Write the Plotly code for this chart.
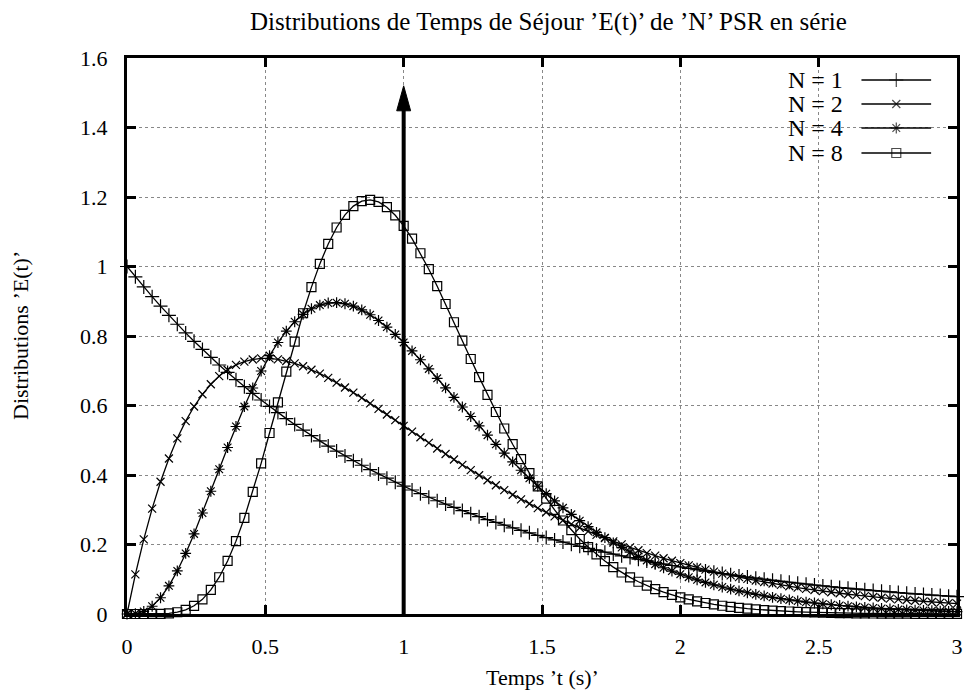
import plotly.graph_objects as go

# ---------------- data ----------------
T = [0, 0.0303, 0.0606, 0.0909, 0.1212, 0.1515, 0.1818, 0.2121, 0.2424, 0.2727,
     0.3030, 0.3333, 0.3636, 0.3939, 0.4242, 0.4545, 0.4848, 0.5152, 0.5455, 0.5758,
     0.6061, 0.6364, 0.6667, 0.6970, 0.7273, 0.7576, 0.7879, 0.8182, 0.8485, 0.8788,
     0.9091, 0.9394, 0.9697, 1.0000, 1.0303, 1.0606, 1.0909, 1.1212, 1.1515, 1.1818,
     1.2121, 1.2424, 1.2727, 1.3030, 1.3333, 1.3636, 1.3939, 1.4242, 1.4545, 1.4848,
     1.5152, 1.5455, 1.5758, 1.6061, 1.6364, 1.6667, 1.6970, 1.7273, 1.7576, 1.7879,
     1.8182, 1.8485, 1.8788, 1.9091, 1.9394, 1.9697, 2.0000, 2.0303, 2.0606, 2.0909,
     2.1212, 2.1515, 2.1818, 2.2121, 2.2424, 2.2727, 2.3030, 2.3333, 2.3636, 2.3939,
     2.4242, 2.4545, 2.4848, 2.5152, 2.5455, 2.5758, 2.6061, 2.6364, 2.6667, 2.6970,
     2.7273, 2.7576, 2.7879, 2.8182, 2.8485, 2.8788, 2.9091, 2.9394, 2.9697, 3.0000]

E_N1 = [1.0000, 0.9702, 0.9412, 0.9131, 0.8858, 0.8594, 0.8338, 0.8089, 0.7847, 0.7613,
        0.7386, 0.7165, 0.6951, 0.6744, 0.6543, 0.6347, 0.6158, 0.5974, 0.5796, 0.5623,
        0.5455, 0.5292, 0.5134, 0.4981, 0.4832, 0.4688, 0.4548, 0.4412, 0.4281, 0.4153,
        0.4029, 0.3909, 0.3792, 0.3679, 0.3569, 0.3462, 0.3359, 0.3259, 0.3162, 0.3067,
        0.2976, 0.2887, 0.2801, 0.2717, 0.2636, 0.2557, 0.2481, 0.2407, 0.2335, 0.2265,
        0.2198, 0.2132, 0.2069, 0.2007, 0.1947, 0.1889, 0.1832, 0.1778, 0.1725, 0.1673,
        0.1623, 0.1575, 0.1528, 0.1482, 0.1438, 0.1395, 0.1353, 0.1313, 0.1274, 0.1236,
        0.1199, 0.1163, 0.1128, 0.1095, 0.1062, 0.1030, 0.1000, 0.0970, 0.0941, 0.0913,
        0.0885, 0.0859, 0.0833, 0.0809, 0.0784, 0.0761, 0.0738, 0.0716, 0.0695, 0.0674,
        0.0654, 0.0634, 0.0616, 0.0597, 0.0579, 0.0562, 0.0545, 0.0529, 0.0513, 0.0498]

E_N2 = [0.0000, 0.1141, 0.2148, 0.3032, 0.3805, 0.4476, 0.5056, 0.5551, 0.5971, 0.6323,
        0.6612, 0.6846, 0.7029, 0.7167, 0.7264, 0.7325, 0.7354, 0.7354, 0.7329, 0.7281,
        0.7214, 0.7129, 0.7029, 0.6917, 0.6793, 0.6660, 0.6519, 0.6372, 0.6219, 0.6062,
        0.5903, 0.5741, 0.5577, 0.5413, 0.5250, 0.5086, 0.4924, 0.4763, 0.4604, 0.4447,
        0.4293, 0.4142, 0.3993, 0.3848, 0.3706, 0.3567, 0.3432, 0.3300, 0.3172, 0.3048,
        0.2927, 0.2810, 0.2697, 0.2587, 0.2481, 0.2378, 0.2279, 0.2183, 0.2091, 0.2002,
        0.1916, 0.1834, 0.1754, 0.1678, 0.1604, 0.1533, 0.1465, 0.1400, 0.1337, 0.1277,
        0.1220, 0.1164, 0.1111, 0.1060, 0.1012, 0.0965, 0.0920, 0.0878, 0.0837, 0.0798,
        0.0760, 0.0725, 0.0690, 0.0658, 0.0626, 0.0597, 0.0568, 0.0541, 0.0515, 0.0490,
        0.0467, 0.0444, 0.0423, 0.0402, 0.0382, 0.0364, 0.0346, 0.0329, 0.0313, 0.0298]

E_N4 = [0.0000, 0.0011, 0.0075, 0.0223, 0.0468, 0.0810, 0.1239, 0.1743, 0.2305, 0.2907,
        0.3533, 0.4166, 0.4791, 0.5396, 0.5970, 0.6504, 0.6993, 0.7436, 0.7813, 0.8140,
        0.8410, 0.8624, 0.8784, 0.8891, 0.8949, 0.8960, 0.8928, 0.8858, 0.8751, 0.8612,
        0.8446, 0.8256, 0.8044, 0.7815, 0.7571, 0.7316, 0.7053, 0.6783, 0.6509, 0.6233,
        0.5957, 0.5683, 0.5412, 0.5145, 0.4883, 0.4627, 0.4378, 0.4137, 0.3904, 0.3679,
        0.3462, 0.3255, 0.3056, 0.2867, 0.2686, 0.2514, 0.2351, 0.2196, 0.2049, 0.1911,
        0.1780, 0.1657, 0.1541, 0.1433, 0.1331, 0.1235, 0.1145, 0.1061, 0.0983, 0.0910,
        0.0841, 0.0777, 0.0718, 0.0663, 0.0612, 0.0564, 0.0520, 0.0479, 0.0441, 0.0406,
        0.0374, 0.0344, 0.0316, 0.0290, 0.0266, 0.0244, 0.0224, 0.0206, 0.0189, 0.0173,
        0.0158, 0.0145, 0.0133, 0.0121, 0.0111, 0.0102, 0.0093, 0.0085, 0.0078, 0.0071]

E_N8 = [0.0000, 0.0000, 0.0000, 0.0001, 0.0005, 0.0018, 0.0051, 0.0118, 0.0236, 0.0422,
        0.0692, 0.1058, 0.1526, 0.2097, 0.2765, 0.3516, 0.4335, 0.5209, 0.6088, 0.6976,
        0.7838, 0.8655, 0.9406, 1.0075, 1.0650, 1.1122, 1.1485, 1.1738, 1.1881, 1.1919,
        1.1859, 1.1707, 1.1473, 1.1167, 1.0800, 1.0381, 0.9922, 0.9433, 0.8921, 0.8396,
        0.7866, 0.7338, 0.6816, 0.6307, 0.5813, 0.5338, 0.4886, 0.4457, 0.4053, 0.3674,
        0.3321, 0.2994, 0.2691, 0.2413, 0.2158, 0.1926, 0.1714, 0.1523, 0.1350, 0.1194,
        0.1054, 0.0928, 0.0816, 0.0717, 0.0628, 0.0549, 0.0480, 0.0418, 0.0364, 0.0316,
        0.0275, 0.0238, 0.0206, 0.0178, 0.0154, 0.0132, 0.0114, 0.0098, 0.0084, 0.0072,
        0.0062, 0.0053, 0.0045, 0.0039, 0.0033, 0.0028, 0.0024, 0.0020, 0.0017, 0.0015,
        0.0013, 0.0011, 0.0009, 0.0008, 0.0006, 0.0005, 0.0005, 0.0004, 0.0003, 0.0003]

SERIES_NAMES = ["N = 1", "N = 2", "N = 4", "N = 8"]
X_TICKS = [0, 0.5, 1, 1.5, 2, 2.5, 3]
Y_TICKS = [0, 0.2, 0.4, 0.6, 0.8, 1.0, 1.2, 1.4, 1.6]
ARROW_X = 1.0
ARROW_BASE = 0.0
ARROW_TIP = 1.52

TITLE = "Distributions de Temps de Séjour ’E(t)’ de ’N’ PSR en série"
X_TITLE = "Temps ’t (s)’"
Y_TITLE = "Distributions ’E(t)’"

# ---------------- styling ----------------
OFF = 8                      # page body margin of the browser
SCR_W, SCR_H = 975, 691
W, H = SCR_W - OFF, SCR_H - OFF
PLOT_L, PLOT_R, PLOT_T, PLOT_B = 127, 961, 58, 614   # screen pixels of the plot frame
L = PLOT_L - OFF
TOP = PLOT_T - OFF
R = W - (PLOT_R - OFF)
B = H - (PLOT_B - OFF)
PW, PH = PLOT_R - PLOT_L, PLOT_B - PLOT_T
X_RANGE = [0, 3]
Y_RANGE = [0, 1.6]
FONT = "Liberation Serif"
FS = 22
FS_TITLE = 25
FS_KEY = 24

SYMBOLS = ["cross-thin", "x-thin", "asterisk-open", "square-open"]
SIZES = [10, 8, 9, 9]

fig = go.Figure()
series = [E_N1, E_N2, E_N4, E_N8]
for name, ys, sym, sz in zip(SERIES_NAMES, series, SYMBOLS, SIZES):
    fig.add_trace(go.Scatter(
        x=T, y=ys, mode="lines+markers", name=name, showlegend=False,
        cliponaxis=False,
        line=dict(color="black", width=1.3),
        marker=dict(symbol=sym, size=sz, color="black",
                    line=dict(color="black", width=1.2)),
    ))

# gnuplot-style key (text left, sample right) on an overlay [0,1] axis pair
def px_x(sx):
    return (sx - PLOT_L) / PW

def px_y(sy):
    return (PLOT_B - sy) / PH

KEY_TEXT_X = px_x(848)
KEY_X0, KEY_XM, KEY_X1 = px_x(865), px_x(900), px_x(935)
KEY_ROWS_PX = [80, 104, 128, 153]
for name, sym, sz, rpx in zip(SERIES_NAMES, SYMBOLS, SIZES, KEY_ROWS_PX):
    yk = px_y(rpx)
    fig.add_trace(go.Scatter(
        x=[KEY_X0, KEY_XM, KEY_X1], y=[yk, yk, yk], xaxis="x2", yaxis="y2",
        mode="lines+markers", showlegend=False, hoverinfo="skip",
        line=dict(color="black", width=1.3),
        marker=dict(symbol=sym, size=[0, sz, 0], color="black",
                    line=dict(color="black", width=1.2)),
    ))
    fig.add_annotation(xref="x2", yref="y2", x=KEY_TEXT_X, y=yk, text=name,
                       showarrow=False, xanchor="right", yanchor="middle",
                       font=dict(family=FONT, size=FS_KEY, color="black"))

# arrow at t = 1
HEAD_LEN = 25 / PH * (Y_RANGE[1] - Y_RANGE[0])
HEAD_HW = 7 / PW * (X_RANGE[1] - X_RANGE[0])
fig.add_shape(type="line", xref="x", yref="y", x0=ARROW_X, x1=ARROW_X,
              y0=ARROW_BASE, y1=ARROW_TIP - HEAD_LEN + 0.005,
              line=dict(color="black", width=4), layer="above")
fig.add_shape(type="path", xref="x", yref="y", layer="above",
              path=(f"M {ARROW_X - HEAD_HW},{ARROW_TIP - HEAD_LEN} "
                    f"L {ARROW_X},{ARROW_TIP} L {ARROW_X + HEAD_HW},{ARROW_TIP - HEAD_LEN} Z"),
              fillcolor="black", line=dict(color="black", width=1))

axis_common = dict(
    showline=True, linecolor="black", linewidth=3, mirror="ticks",
    ticks="inside", ticklen=9, tickwidth=2.5, tickcolor="black",
    showgrid=True, gridcolor="#888888", griddash="dot", gridwidth=1,
    zeroline=False,
    tickfont=dict(family=FONT, size=FS, color="black"),
)
fig.update_layout(
    width=W, height=H,
    margin=dict(l=L, r=R, t=TOP, b=B),
    paper_bgcolor="white", plot_bgcolor="white",
    xaxis=dict(range=X_RANGE, tickvals=X_TICKS, ticklabelstandoff=11, **axis_common),
    yaxis=dict(range=Y_RANGE, tickvals=Y_TICKS, ticklabelstandoff=12, **axis_common),
    xaxis2=dict(range=[0, 1], overlaying="x", visible=False, fixedrange=True),
    yaxis2=dict(range=[0, 1], overlaying="y", visible=False, fixedrange=True),
    showlegend=False,
)
fig.add_annotation(xref="paper", yref="paper", x=0.5, y=1, yshift=PLOT_T - 22, xshift=6,
                   text=TITLE, showarrow=False, xanchor="center", yanchor="middle",
                   font=dict(family=FONT, size=FS_TITLE, color="black"))
fig.add_annotation(xref="paper", yref="paper", x=0.5, y=0, yshift=-(677 - PLOT_B),
                   text=X_TITLE, showarrow=False, xanchor="center", yanchor="middle",
                   font=dict(family=FONT, size=FS, color="black"))
fig.add_annotation(xref="paper", yref="paper", x=0, y=0.5, xshift=-(PLOT_L - 20),
                   text=Y_TITLE, showarrow=False, textangle=-90,
                   xanchor="center", yanchor="middle",
                   font=dict(family=FONT, size=FS, color="black"))

fig.write_html("out.html")
